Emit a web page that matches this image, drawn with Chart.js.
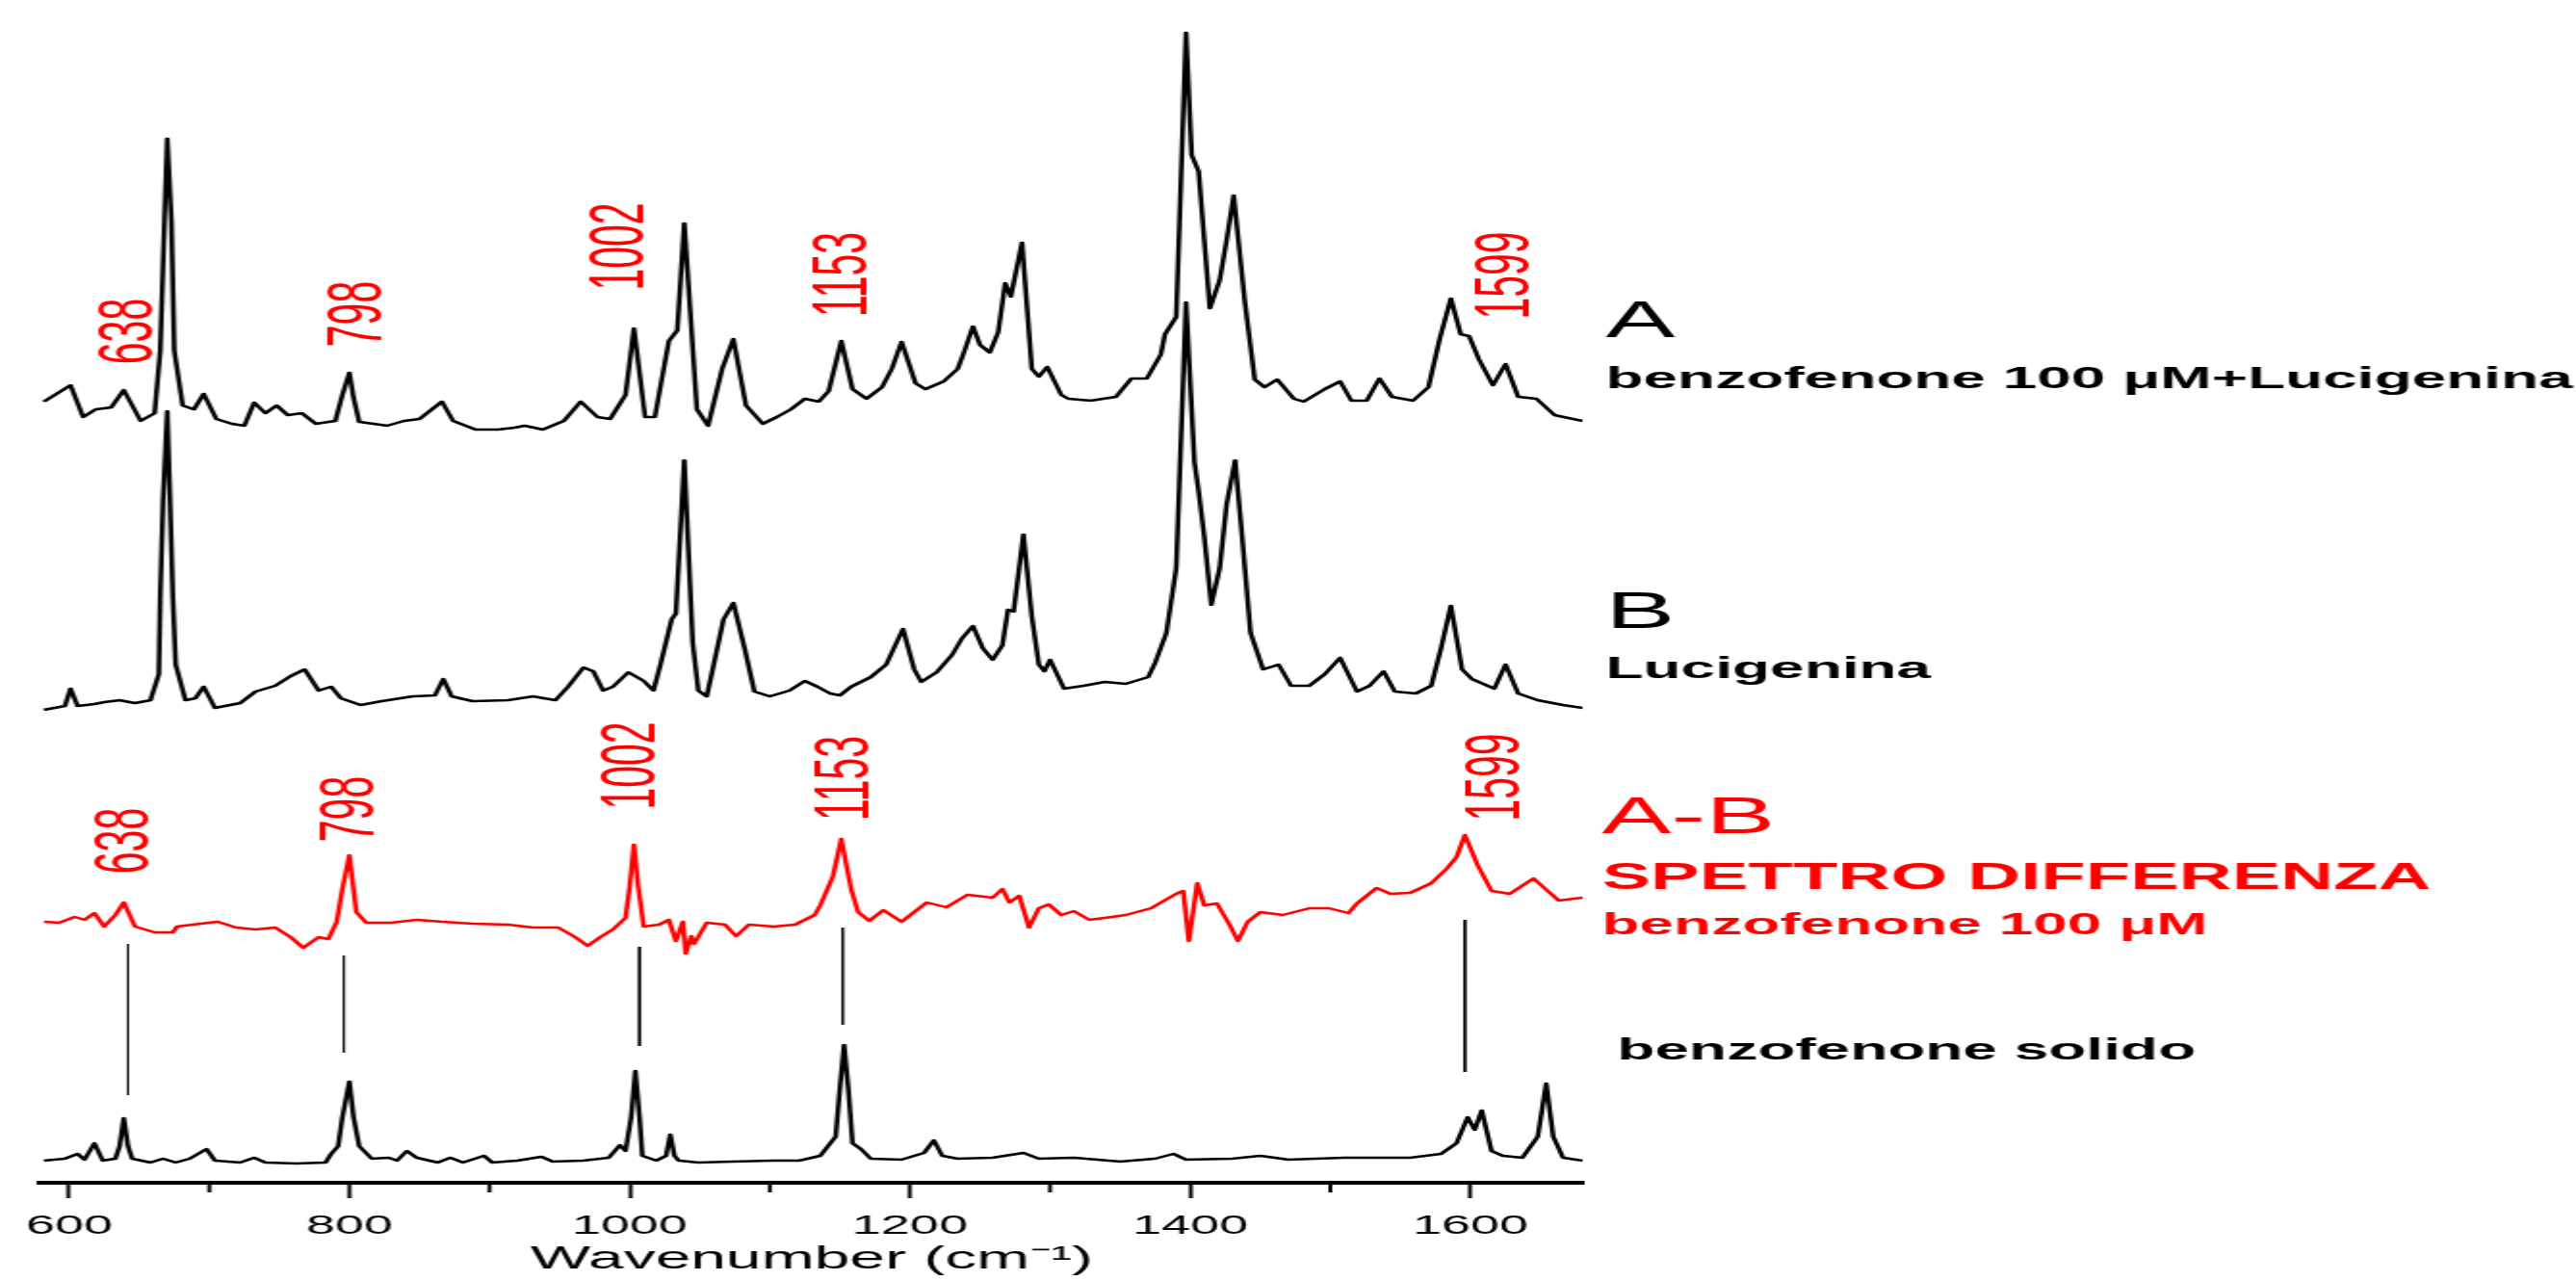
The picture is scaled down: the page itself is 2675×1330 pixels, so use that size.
<!DOCTYPE html>
<html>
<head>
<meta charset="utf-8">
<title>benzofenone - spettri Raman</title>
<script src="https://cdn.jsdelivr.net/npm/chart.js@4.4.1/dist/chart.umd.min.js"></script>
<style>
  html, body { margin: 0; padding: 0; background: #fff; overflow: hidden; }
</style>
</head>
<body>
<!-- the figure is a horizontally stretched picture: draw at half width, stretch 2x -->
<canvas id="chart" width="1338" height="1330" style="display:block;width:2675px;height:1330px"></canvas>
<script>
// spectra: [wavenumber (cm-1), intensity above own baseline (a.u.)]
var spectrumA = [[582,23],[601,40],[610,7],[619,15],[630,17],[639,35],[651,3],[661,11],[665,76],[668,210],[670,296],[673,210],[675,76],[681,19],[689,15],[696,31],[705,5],[716,0],[725,-2],[732,22],[740,11],[748,19],[756,9],[766,11],[776,0],[790,3],[795,30],[800,53],[803,27],[807,2],[827,-2],[839,3],[850,5],[866,23],[874,3],[890,-6],[906,-6],[918,-4],[925,-2],[938,-6],[953,3],[965,23],[977,7],[986,5],[997,30],[1003,99],[1011,7],[1018,7],[1028,86],[1034,97],[1039,208],[1048,15],[1056,-2],[1066,57],[1074,88],[1083,19],[1095,0],[1105,7],[1115,15],[1125,26],[1135,23],[1142,34],[1151,86],[1159,36],[1169,26],[1180,38],[1187,57],[1194,85],[1204,42],[1211,36],[1224,44],[1234,57],[1239,76],[1245,101],[1250,82],[1257,74],[1263,95],[1268,146],[1272,132],[1280,188],[1287,57],[1292,49],[1298,59],[1308,30],[1313,26],[1329,24],[1347,28],[1358,47],[1369,47],[1379,72],[1382,93],[1390,111],[1397,406],[1401,279],[1406,262],[1414,120],[1421,149],[1426,191],[1431,237],[1439,126],[1446,46],[1453,38],[1462,46],[1474,26],[1481,23],[1496,36],[1507,44],[1515,24],[1526,24],[1535,47],[1544,28],[1559,24],[1570,38],[1578,88],[1586,130],[1593,93],[1599,91],[1606,67],[1616,40],[1625,62],[1634,28],[1647,26],[1660,9],[1680,3]];

var spectrumB = [[582,-2],[597,2],[601,20],[606,2],[618,4],[625,6],[636,8],[647,5],[658,8],[664,35],[665,115],[667,215],[670,308],[672,215],[674,115],[676,45],[683,8],[690,10],[696,22],[704,0],[722,5],[733,17],[747,23],[758,33],[768,40],[778,18],[787,22],[794,10],[808,3],[823,7],[845,12],[861,13],[867,30],[873,12],[888,7],[913,8],[931,12],[947,8],[956,22],[967,42],[974,38],[981,18],[988,22],[999,37],[1010,28],[1017,18],[1022,45],[1030,92],[1033,98],[1039,257],[1045,68],[1049,18],[1055,12],[1060,45],[1067,92],[1074,109],[1082,62],[1089,17],[1100,12],[1114,18],[1125,28],[1134,22],[1143,15],[1150,13],[1158,22],[1172,32],[1183,45],[1195,82],[1203,40],[1208,27],[1219,37],[1230,55],[1237,72],[1245,85],[1252,62],[1259,50],[1266,65],[1270,102],[1274,100],[1281,180],[1287,95],[1292,45],[1296,38],[1300,50],[1310,20],[1324,23],[1339,27],[1354,25],[1370,32],[1375,47],[1383,78],[1390,145],[1397,421],[1403,255],[1406,225],[1410,178],[1415,107],[1421,145],[1426,212],[1432,257],[1437,178],[1443,78],[1452,40],[1463,45],[1472,23],[1485,23],[1496,35],[1507,52],[1519,17],[1528,23],[1538,38],[1546,17],[1561,15],[1572,23],[1579,62],[1586,106],[1594,40],[1601,30],[1617,20],[1625,45],[1634,15],[1648,8],[1666,3],[1680,0]];

// A-B difference spectrum
var spectrumDiff = [[582,3],[593,2],[604,8],[611,5],[618,12],[625,-2],[633,10],[639,23],[647,-2],[661,-8],[674,-8],[677,-2],[694,1],[706,3],[719,-3],[733,-5],[747,-3],[758,-13],[767,-24],[778,-13],[785,-15],[791,3],[795,37],[800,72],[805,13],[812,2],[830,2],[848,5],[866,3],[888,1],[913,0],[931,-3],[949,-3],[960,-12],[970,-22],[979,-13],[988,-5],[997,7],[1000,40],[1003,83],[1006,40],[1010,-2],[1021,0],[1028,5],[1033,-17],[1038,3],[1040,-30],[1044,-12],[1046,-20],[1055,2],[1068,0],[1076,-12],[1085,0],[1103,-2],[1118,0],[1132,10],[1136,20],[1145,50],[1151,89],[1158,37],[1163,13],[1171,4],[1181,15],[1194,3],[1212,23],[1226,18],[1241,31],[1259,28],[1266,37],[1271,23],[1278,30],[1285,-3],[1292,17],[1299,21],[1308,10],[1317,14],[1328,5],[1339,7],[1354,10],[1372,17],[1390,32],[1395,35],[1399,-17],[1405,43],[1410,20],[1419,22],[1428,0],[1434,-17],[1441,3],[1450,13],[1466,10],[1485,17],[1499,17],[1513,12],[1519,22],[1533,38],[1543,32],[1557,33],[1572,43],[1583,58],[1590,70],[1596,93],[1605,62],[1615,35],[1628,32],[1645,48],[1655,35],[1663,25],[1680,28]];

var spectrumSolid = [[582,0],[597,2],[606,7],[611,1],[618,18],[624,0],[633,2],[636,15],[639,44],[642,15],[645,2],[658,-2],[667,2],[676,-2],[686,2],[698,12],[704,0],[722,-2],[732,3],[740,-2],[762,-3],[783,-2],[787,7],[792,15],[795,45],[800,82],[803,45],[807,15],[816,2],[828,3],[834,0],[841,10],[848,3],[863,-2],[872,3],[881,-2],[896,5],[902,-2],[920,0],[937,4],[945,-1],[967,0],[985,3],[993,16],[997,10],[1001,45],[1004,93],[1007,45],[1009,5],[1019,0],[1026,5],[1029,27],[1032,5],[1035,0],[1049,-2],[1074,-1],[1103,0],[1121,0],[1136,5],[1147,25],[1150,75],[1153,120],[1156,75],[1159,18],[1165,12],[1172,2],[1194,1],[1210,8],[1217,21],[1223,5],[1234,2],[1259,3],[1281,8],[1292,2],[1317,3],[1350,-1],[1375,2],[1388,7],[1397,1],[1430,2],[1450,5],[1470,1],[1510,3],[1557,3],[1579,7],[1590,18],[1598,45],[1603,32],[1608,52],[1615,10],[1623,5],[1637,3],[1648,25],[1654,80],[1659,25],[1666,3],[1680,0]];

var tickValues = [600, 800, 1000, 1200, 1400, 1600];
var minorTickValues = [700, 900, 1100, 1300, 1500];
var peakTags = ['638', '798', '1002', '1153', '1599'];
var guideWaves = [642, 796, 1007, 1152, 1596];

var FONT = "'Liberation Sans', Arial, Helvetica, sans-serif";
var RED = '#ff0000';

// vertical stacking of the traces (y units, 0 = axis line)
var offsets = { A: 788, B: 493, diff: 268, solid: 23 };
// guide lines between difference spectrum and solid spectrum
var guideTop = [248, 236, 245, 265, 273];
var guideBottom = [91, 135, 142, 164, 115];

function toPoints(spec, off) {
  return spec.map(function (p) { return { x: p[0], y: p[1] + off }; });
}

function trace(spec, off, color) {
  return {
    data: toPoints(spec, off),
    borderColor: color,
    borderWidth: 2.5,
    borderJoinStyle: 'round',
    pointRadius: 0,
    tension: 0,
    fill: false
  };
}

var datasets = [
  trace(spectrumA, offsets.A, '#000'),
  trace(spectrumB, offsets.B, '#000'),
  trace(spectrumDiff, offsets.diff, RED),
  trace(spectrumSolid, offsets.solid, '#000')
];
guideWaves.forEach(function (w, i) {
  datasets.push({
    data: [{ x: w, y: guideTop[i] }, { x: w, y: guideBottom[i] }],
    borderColor: '#000',
    borderWidth: 1,
    pointRadius: 0,
    fill: false
  });
});

// red peak labels, rotated, [wavenumber, y] of text centre
var upperTagAt = [[644, 884], [807, 902], [994, 972], [1153, 943], [1626, 942]];
var lowerTagAt = [[641, 355], [802, 388], [1002, 433], [1155, 420], [1619, 421]];

var sideLabels = [
  { text: 'A', x: 834, y: 350, size: 54, weight: 'normal', color: '#000' },
  { text: 'benzofenone 100 \u03bcM+Lucigenina', x: 834, y: 403, size: 32, weight: 'bold', color: '#000' },
  { text: 'B', x: 834, y: 652, size: 54, weight: 'normal', color: '#000' },
  { text: 'Lucigenina', x: 834, y: 704, size: 32, weight: 'bold', color: '#000' },
  { text: 'A-B', x: 832, y: 865, size: 54, weight: 'normal', color: RED },
  { text: 'SPETTRO DIFFERENZA', x: 832, y: 923, size: 38, weight: 'bold', color: RED },
  { text: 'benzofenone 100 \u03bcM', x: 832, y: 970, size: 32, weight: 'bold', color: RED },
  { text: 'benzofenone solido', x: 840, y: 1100, size: 32, weight: 'bold', color: '#000' }
];

var decorations = {
  id: 'decorations',
  afterDraw: function (chart) {
    var ctx = chart.ctx;
    var xs = chart.scales.x, ys = chart.scales.y;
    ctx.save();
    // minor ticks
    ctx.strokeStyle = '#000';
    ctx.lineWidth = 2;
    minorTickValues.forEach(function (v) {
      var px = xs.getPixelForValue(v);
      ctx.beginPath();
      ctx.moveTo(px, chart.chartArea.bottom);
      ctx.lineTo(px, chart.chartArea.bottom + 10);
      ctx.stroke();
    });
    // rotated peak labels
    ctx.fillStyle = RED;
    ctx.font = '41px ' + FONT;
    ctx.textAlign = 'center';
    ctx.textBaseline = 'middle';
    [upperTagAt, lowerTagAt].forEach(function (set) {
      set.forEach(function (p, i) {
        ctx.save();
        ctx.translate(xs.getPixelForValue(p[0]), ys.getPixelForValue(p[1]));
        ctx.rotate(-Math.PI / 2);
        ctx.fillText(peakTags[i], 0, 0);
        ctx.restore();
      });
    });
    // trace names on the right
    ctx.textAlign = 'left';
    ctx.textBaseline = 'alphabetic';
    sideLabels.forEach(function (l) {
      ctx.fillStyle = l.color;
      ctx.font = l.weight + ' ' + l.size + 'px ' + FONT;
      ctx.fillText(l.text, l.x, l.y);
    });
    ctx.restore();
  }
};

var chart = new Chart(document.getElementById('chart').getContext('2d'), {
  type: 'line',
  data: { datasets: datasets },
  options: {
    responsive: false,
    animation: false,
    devicePixelRatio: 1,
    layout: { padding: { left: 21, right: 516, top: 20, bottom: 0 } },
    plugins: { legend: { display: false }, tooltip: { enabled: false } },
    scales: {
      x: {
        type: 'linear',
        min: 580,
        max: 1680,
        afterBuildTicks: function (s) { s.ticks = tickValues.map(function (v) { return { value: v }; }); },
        afterFit: function (s) { s.height = 102; },
        border: { display: true, color: '#000', width: 4 },
        grid: { display: true, drawOnChartArea: false, drawTicks: true, tickLength: 16, tickWidth: 2, tickColor: '#000' },
        ticks: {
          color: '#000',
          font: { family: FONT, size: 27 },
          padding: 13,
          maxRotation: 0,
          autoSkip: false,
          callback: function (v) { return String(v); }
        },
        title: {
          display: true,
          text: 'Wavenumber (cm\u207b\u00b9)',
          color: '#000',
          font: { family: FONT, size: 33, lineHeight: 1 },
          padding: { top: 0, bottom: 6 }
        }
      },
      y: { display: false, min: 0, max: 1208 }
    }
  },
  plugins: [decorations]
});
</script>
</body>
</html>
